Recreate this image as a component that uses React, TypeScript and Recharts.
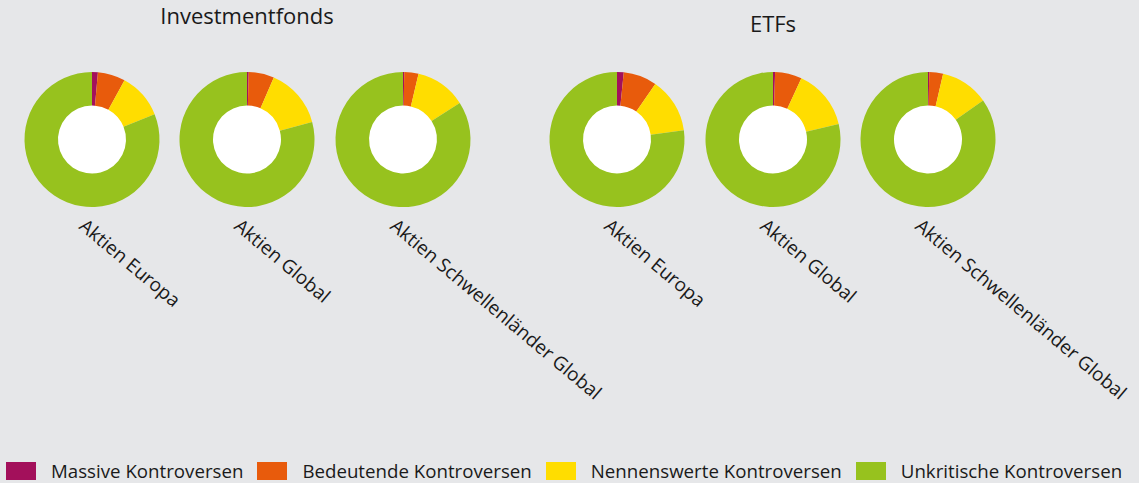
import React from "react";
import { PieChart, Pie, Cell, Legend } from "recharts";

const categories = [
  "Massive Kontroversen",
  "Bedeutende Kontroversen",
  "Nennenswerte Kontroversen",
  "Unkritische Kontroversen",
];
const colors = ["#a3105b", "#e85b0c", "#ffdd00", "#97c21e"];
const groupTitles = ["Investmentfonds", "ETFs"];
const fundLabels = ["Aktien Europa", "Aktien Global", "Aktien Schwellenländer Global"];
const investmentfondsValues = [
  [1.4, 6.6, 10.9, 81.1],
  [0.4, 6.1, 14.3, 79.2],
  [0.3, 3.4, 12.2, 84.1],
];
const etfValues = [
  [1.6, 8.0, 13.2, 77.2],
  [0.5, 6.4, 14.4, 78.7],
  [0.3, 3.3, 11.6, 84.8],
];

const W = 1139;
const H = 483;
const BG = "#e6e7e9";
const FONT = "'Open Sans', 'Noto Sans', sans-serif";
const centersX = [92, 247, 403, 617, 773, 928];
const CY = 139.5;
const titleBaselines = [24, 32];
const holeData = [{ name: "hole", value: 1 }];

const renderLegend = () => (
  <div
    style={{
      display: "flex",
      alignItems: "center",
      fontFamily: FONT,
      fontSize: 18.7,
      lineHeight: "20px",
      color: "#1a1a1a",
      paddingLeft: 6,
      whiteSpace: "nowrap",
    }}
  >
    {categories.map((c, i) => (
      <div key={c} style={{ display: "flex", alignItems: "center", marginRight: 14 }}>
        <span
          style={{ display: "inline-block", width: 30, height: 18, background: colors[i], marginRight: 15 }}
        />
        <span>{c}</span>
      </div>
    ))}
  </div>
);

export default function App() {
  const groups = [investmentfondsValues, etfValues];
  const pies = groups.flatMap((g, gi) =>
    g.map((vals, i) => ({
      key: `${gi}-${i}`,
      label: fundLabels[i],
      cx: centersX[gi * 3 + i],
      data: categories.map((name, k) => ({ name, value: vals[k] })),
    }))
  );
  return (
    <div
      style={{
        position: "absolute",
        left: 0,
        top: 0,
        width: W,
        height: H,
        background: BG,
        fontFamily: FONT,
        overflow: "hidden",
      }}
    >
      <PieChart width={W} height={H} margin={{ top: 0, right: 0, bottom: 0, left: 0 }}>
        {pies.map((p) => (
          <Pie
            key={`hole-${p.key}`}
            data={holeData}
            dataKey="value"
            cx={p.cx}
            cy={CY}
            innerRadius={0}
            outerRadius={34.5}
            fill="#ffffff"
            stroke="none"
            legendType="none"
            isAnimationActive={false}
          />
        ))}
        {pies.map((p) => (
          <Pie
            key={p.key}
            data={p.data}
            dataKey="value"
            nameKey="name"
            cx={p.cx}
            cy={CY}
            innerRadius={34}
            outerRadius={67.5}
            startAngle={90}
            endAngle={-270}
            stroke="none"
            isAnimationActive={false}
          >
            {p.data.map((d, k) => (
              <Cell key={d.name} fill={colors[k]} />
            ))}
          </Pie>
        ))}
        <Legend content={renderLegend} wrapperStyle={{ left: 0, top: 461, width: W, height: 20 }} />
      </PieChart>
      <svg
        style={{ position: "absolute", left: 0, top: 0, pointerEvents: "none" }}
        width={W}
        height={H}
      >
        {groupTitles.map((t, gi) => (
          <text
            key={t}
            x={centersX[gi * 3 + 1]}
            y={titleBaselines[gi]}
            textAnchor="middle"
            fontFamily={FONT}
            fontSize={22}
            fill="#1a1a1a"
          >
            {t}
          </text>
        ))}
        {pies.map((p) => (
          <text
            key={p.key}
            transform={`translate(${p.cx - 14}, 228) rotate(40)`}
            textAnchor="start"
            fontFamily={FONT}
            fontSize={19}
            fill="#1a1a1a"
          >
            {p.label}
          </text>
        ))}
      </svg>
    </div>
  );
}
